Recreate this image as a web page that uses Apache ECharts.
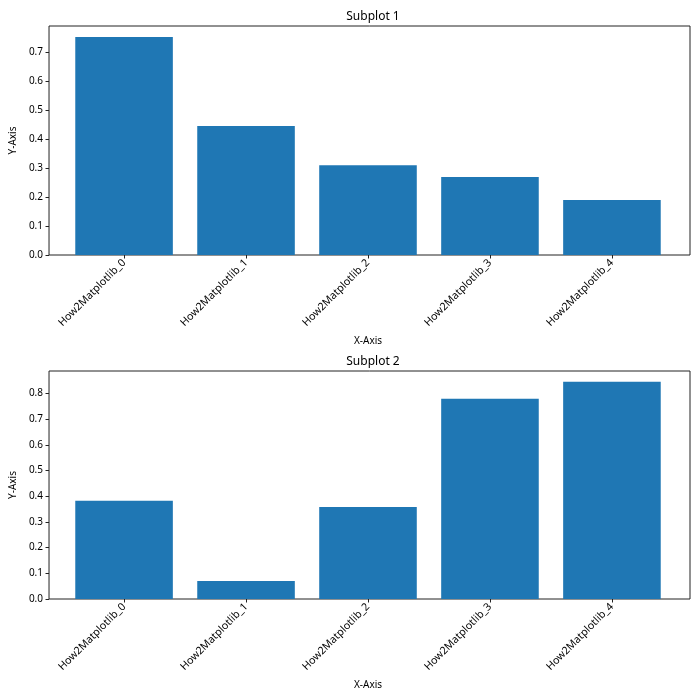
<!DOCTYPE html>
<html><head><meta charset="utf-8">
<script src="https://cdn.jsdelivr.net/npm/echarts@6/dist/echarts.min.js"></script>
<style>html,body{margin:0;padding:0;background:#fff}#c{width:700px;height:700px}</style>
</head><body><div id="c"></div>
<script>
const categories = ['How2Matplotlib_0','How2Matplotlib_1','How2Matplotlib_2','How2Matplotlib_3','How2Matplotlib_4'];
const values1 = [0.752, 0.445, 0.310, 0.269, 0.190];
const values2 = [0.382, 0.070, 0.358, 0.779, 0.845];
const yMax1 = 0.79;
const yMax2 = 0.887;
const titles = ['Subplot 1', 'Subplot 2'];

const FONT = 'Noto Sans';
const chart = echarts.init(document.getElementById('c'));
const L = 46, W = 644;
const unit = W / 5.28;
const tops = [26, 371], heights = [229, 228];
const data = [values1, values2], maxes = [yMax1, yMax2];

const grid = [], xAxis = [], yAxis = [], series = [], title = [];
for (let i = 0; i < 2; i++) {
  grid.push({left: L, width: W, top: tops[i], height: heights[i], show: true, borderColor: '#222', borderWidth: 1, containLabel: false});
  grid.push({left: L + 0.14 * unit, width: 5 * unit, top: tops[i], height: heights[i], containLabel: false});
  xAxis.push({type: 'value', gridIndex: 2*i, show: false, min: 0, max: 1});
  xAxis.push({type: 'category', gridIndex: 2*i+1, data: categories,
    axisLine: {show: false},
    axisTick: {show: true, alignWithLabel: true, length: 3.5, lineStyle: {color: '#222'}},
    axisLabel: {rotate: 45, fontFamily: FONT, fontSize: 10.6, color: '#000', margin: 6, interval: 0},
    name: 'X-Axis', nameLocation: 'middle', nameGap: 81, nameTextStyle: {fontFamily: FONT, fontSize: 10, color: '#000'}
  });
  yAxis.push({type: 'value', gridIndex: 2*i, min: 0, max: maxes[i], interval: 0.1,
    splitLine: {show: false},
    axisLine: {show: false},
    axisTick: {show: true, length: 3.5, lineStyle: {color: '#222'}},
    axisLabel: {fontFamily: FONT, fontSize: 10, color: '#000', margin: 6, formatter: v => v.toFixed(1), showMaxLabel: false},
    name: 'Y-Axis', nameLocation: 'middle', nameGap: 26, nameRotate: 90,
    nameTextStyle: {fontFamily: FONT, fontSize: 10, color: '#000'}
  });
  yAxis.push({type: 'value', gridIndex: 2*i+1, min: 0, max: maxes[i], show: false});
  series.push({type: 'bar', xAxisIndex: 2*i+1, yAxisIndex: 2*i+1, data: data[i],
    barWidth: 0.8 * unit, itemStyle: {color: '#1f77b4'}, silent: true, animation: false});
  title.push({text: titles[i], left: L + W/2, textAlign: 'center', top: tops[i] - 20,
    textStyle: {fontFamily: FONT, fontSize: 12, fontWeight: 'normal', color: '#000'}});
}

chart.setOption({animation: false, title, grid, xAxis, yAxis, series});
</script></body></html>
